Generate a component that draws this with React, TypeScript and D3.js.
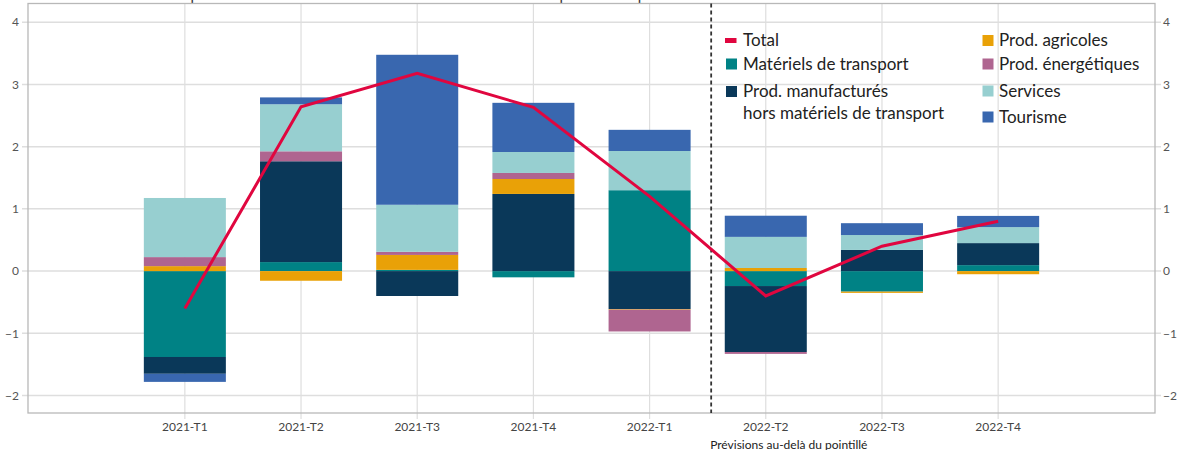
import React from "react";
import * as d3 from "d3";

const categories = ["2021-T1", "2021-T2", "2021-T3", "2021-T4", "2022-T1", "2022-T2", "2022-T3", "2022-T4"];
const transport = [-1.38, 0.145, 0.02, -0.1, 1.3, -0.24, -0.33, 0.096];
const manuf = [-0.27, 1.62, -0.4, 1.24, -0.61, -1.06, 0.34, 0.354];
const agri = [0.08, -0.155, 0.24, 0.24, -0.01, 0.05, -0.02, -0.05];
const energy = [0.145, 0.16, 0.05, 0.097, -0.35, -0.03, 0, 0];
const services = [0.95, 0.756, 0.756, 0.337, 0.63, 0.5, 0.24, 0.257];
const tourism = [-0.13, 0.11, 2.41, 0.79, 0.34, 0.34, 0.19, 0.18];
const total = [-0.6, 2.64, 3.18, 2.63, 1.2, -0.4, 0.4, 0.8];
const yTicks = [-2, -1, 0, 1, 2, 3, 4];

const seriesKeys = ["transport", "manuf", "agri", "energy", "services", "tourism"];
const seriesLabels: Record<string, string> = {
  transport: "Matériels de transport",
  manuf: "Prod. manufacturés",
  agri: "Prod. agricoles",
  energy: "Prod. énergétiques",
  services: "Services",
  tourism: "Tourisme",
};
const colors: Record<string, string> = {
  transport: "#008285",
  manuf: "#0a3859",
  agri: "#e9a107",
  energy: "#af6590",
  services: "#97cfd0",
  tourism: "#3967af",
};
const totalColor = "#e0063f";
const forecastLabel = "Prévisions au-delà du pointillé";
const titleText = "Croissance en volume des exportations totales selon leur nature et contributions des produits en points";

const W = 1180, H = 450;
const left = 28, right = 1155, top = 3.5, bottom = 413;
const FONT = "Lato, 'Open Sans', sans-serif";

export default function App() {
  const rows = categories.map((c, i) => ({
    cat: c,
    transport: transport[i],
    manuf: manuf[i],
    agri: agri[i],
    energy: energy[i],
    services: services[i],
    tourism: tourism[i],
  }));
  const stack = d3.stack<any>().keys(seriesKeys).offset(d3.stackOffsetDiverging);
  const layers = stack(rows);

  const x = d3.scalePoint<string>().domain(categories).range([left, right]).padding(1.35);
  const y = d3.scaleLinear().domain([-2.28, 4.3]).range([bottom, top]);
  const step = x.step();
  const bw = step * 0.706;

  const line = d3
    .line<number>()
    .x((_, i) => x(categories[i]) as number)
    .y((d) => y(d));

  const dashX = (x("2022-T1") as number) + step * 0.53;

  const legendLeft = [
    { key: "total", label: ["Total"], y: 40.5 },
    { key: "transport", label: ["Matériels de transport"], y: 64 },
    { key: "manuf", label: ["Prod. manufacturés", "hors matériels de transport"], y: 91.5 },
  ];
  const legendRight = [
    { key: "agri", y: 40.5 },
    { key: "energy", y: 64 },
    { key: "services", y: 91 },
    { key: "tourism", y: 117 },
  ];

  return (
    <svg width={W} height={H} style={{ position: "absolute", left: 0, top: 0, fontFamily: FONT }}>
      <rect x={0} y={0} width={W} height={H} fill="#fff" />
      <text x={2} y={0.3} fontSize={15} fill="#333">{titleText}</text>
      {/* horizontal grid */}
      {yTicks.map((t) => (
        <g key={t}>
          <line x1={left - 6} x2={right + 6} y1={y(t)} y2={y(t)} stroke="#dedede" strokeWidth={1.5} />
          <text x={19} y={y(t)} dy="0.35em" textAnchor="end" fontSize={12} fill="#555">
            {t < 0 ? "\u2212" + Math.abs(t) : t}
          </text>
          <text x={1163} y={y(t)} dy="0.35em" textAnchor="start" fontSize={12} fill="#555">
            {t < 0 ? "\u2212" + Math.abs(t) : t}
          </text>
        </g>
      ))}
      {/* vertical grid */}
      {categories.map((c) => (
        <g key={c}>
          <line x1={x(c)} x2={x(c)} y1={top} y2={bottom + 6} stroke="#dedede" strokeWidth={1.2} />
          <text x={x(c)} y={427} dy="0.35em" textAnchor="middle" fontSize={12} fill="#444">
            {c}
          </text>
        </g>
      ))}
      <rect x={left} y={top} width={right - left} height={bottom - top} fill="none" stroke="#b8b8b8" strokeWidth={1.3} />
      {/* bars */}
      {layers.map((layer) => (
        <g key={layer.key} fill={colors[layer.key]}>
          {layer.map((d, i) => {
            const y0 = y(d[0]);
            const y1 = y(d[1]);
            return (
              <rect
                key={i}
                x={(x(categories[i]) as number) - bw / 2}
                y={Math.min(y0, y1)}
                width={bw}
                height={Math.abs(y1 - y0)}
              />
            );
          })}
        </g>
      ))}
      {/* dashed forecast separator */}
      <line x1={dashX} x2={dashX} y1={top} y2={bottom} stroke="#333" strokeWidth={1.8} strokeDasharray="4,3" />
      <text x={dashX - 1} y={445} dy="0.35em" fontSize={12} fill="#222">{forecastLabel}</text>
      {/* total line */}
      <path d={line(total) || ""} fill="none" stroke={totalColor} strokeWidth={3} strokeLinejoin="miter" />
      {/* legend */}
      {legendLeft.map((l) => (
        <g key={l.key}>
          {l.key === "total" ? (
            <rect x={725} y={l.y - 2.5} width={11.5} height={5} fill={totalColor} />
          ) : (
            <rect x={726} y={l.y - 5.5} width={11} height={11} fill={colors[l.key]} />
          )}
          {l.label.map((t, j) => (
            <text key={j} x={743} y={l.y + j * 22} dy="0.35em" fontSize={17} fill="#222">
              {t}
            </text>
          ))}
        </g>
      ))}
      {legendRight.map((l) => (
        <g key={l.key}>
          <rect x={982.5} y={l.y - 5.5} width={11} height={11} fill={colors[l.key]} />
          <text x={999} y={l.y} dy="0.35em" fontSize={17} fill="#222">
            {seriesLabels[l.key]}
          </text>
        </g>
      ))}
    </svg>
  );
}
